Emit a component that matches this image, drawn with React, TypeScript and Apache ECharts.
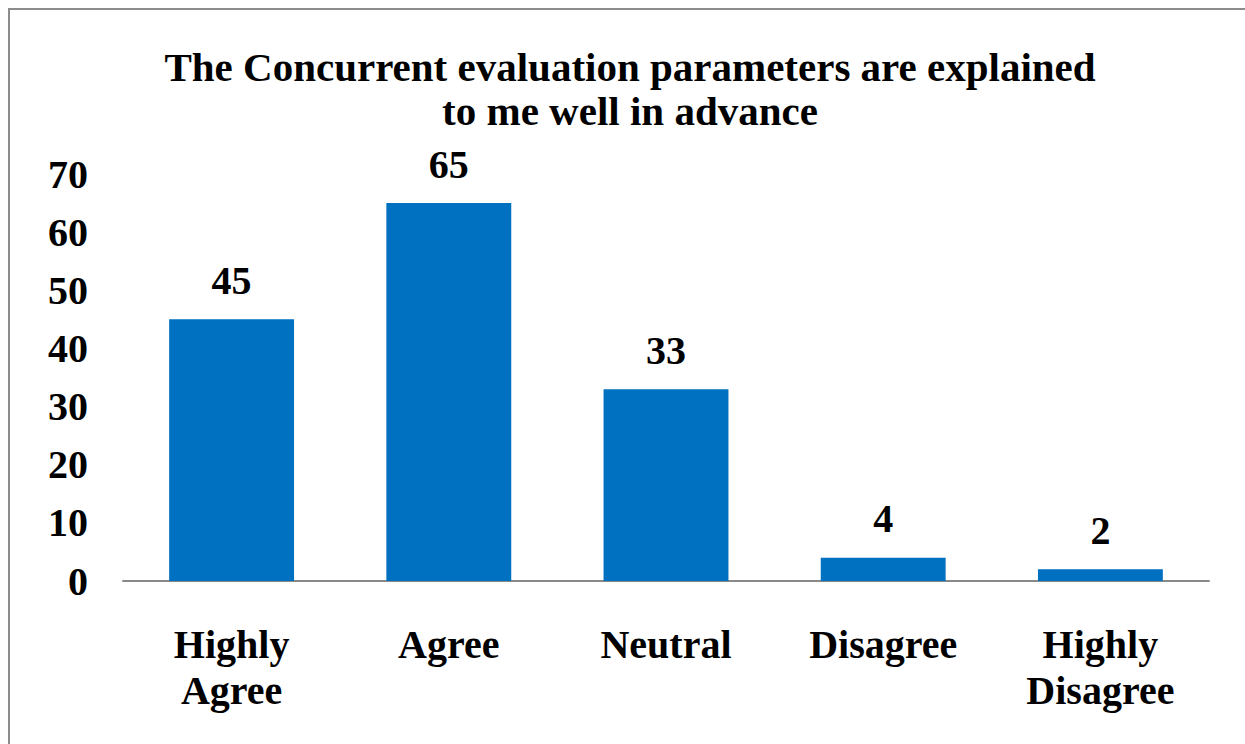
import React, { useEffect, useRef } from "react";
import * as echarts from "echarts";

const categories = ["Highly\nAgree", "Agree", "Neutral", "Disagree", "Highly\nDisagree"];
const values = [45, 65, 33, 4, 2];
const titleLines = ["The Concurrent evaluation parameters are explained", "to me well in advance"];
const yMin = 0;
const yMax = 70;
const yInterval = 10;

const FONT = "'Liberation Serif', 'Times New Roman', serif";

export default function App() {
  const ref = useRef<HTMLDivElement>(null);
  useEffect(() => {
    if (!ref.current) return;
    const chart = echarts.init(ref.current, undefined, { renderer: "svg" });
    chart.setOption({
      animation: false,
      backgroundColor: "#ffffff",
      graphic: [
        {
          type: "rect",
          shape: { x: 9, y: 9, width: 1260, height: 760 },
          style: { fill: "none", stroke: "#8c8c8c", lineWidth: 2 },
          silent: true,
          z: 0,
        },
        {
          type: "text",
          x: 630,
          y: 45,
          style: {
            text: titleLines.join("\n"),
            fontFamily: FONT,
            fontWeight: "bold",
            fontSize: 41,
            lineHeight: 44,
            fill: "#000",
            align: "center",
            verticalAlign: "top",
          },
        },
      ],
      grid: { left: 123, right: 36, top: 174, bottom: 163, containLabel: false },
      xAxis: {
        type: "category",
        data: categories,
        axisLine: { show: true, lineStyle: { color: "#898989", width: 2 } },
        axisTick: { show: false },
        axisLabel: {
          margin: 40,
          fontFamily: FONT,
          fontWeight: "bold",
          fontSize: 40,
          lineHeight: 46,
          color: "#000",
          interval: 0,
        },
      },
      yAxis: {
        type: "value",
        min: yMin,
        max: yMax,
        interval: yInterval,
        axisLine: { show: false },
        axisTick: { show: false },
        splitLine: { show: false },
        axisLabel: {
          margin: 35,
          fontFamily: FONT,
          fontWeight: "bold",
          fontSize: 40,
          color: "#000",
        },
      },
      series: [
        {
          type: "bar",
          data: values,
          barWidth: "57.5%",
          itemStyle: { color: "#0070C0" },
          label: {
            show: true,
            position: "top",
            distance: 19,
            fontFamily: FONT,
            fontWeight: "bold",
            fontSize: 40,
            color: "#000",
          },
        },
      ],
    });
    return () => chart.dispose();
  }, []);
  return (
    <div
      ref={ref}
      style={{ position: "fixed", left: 0, top: 0, width: 1245, height: 744 }}
    />
  );
}
